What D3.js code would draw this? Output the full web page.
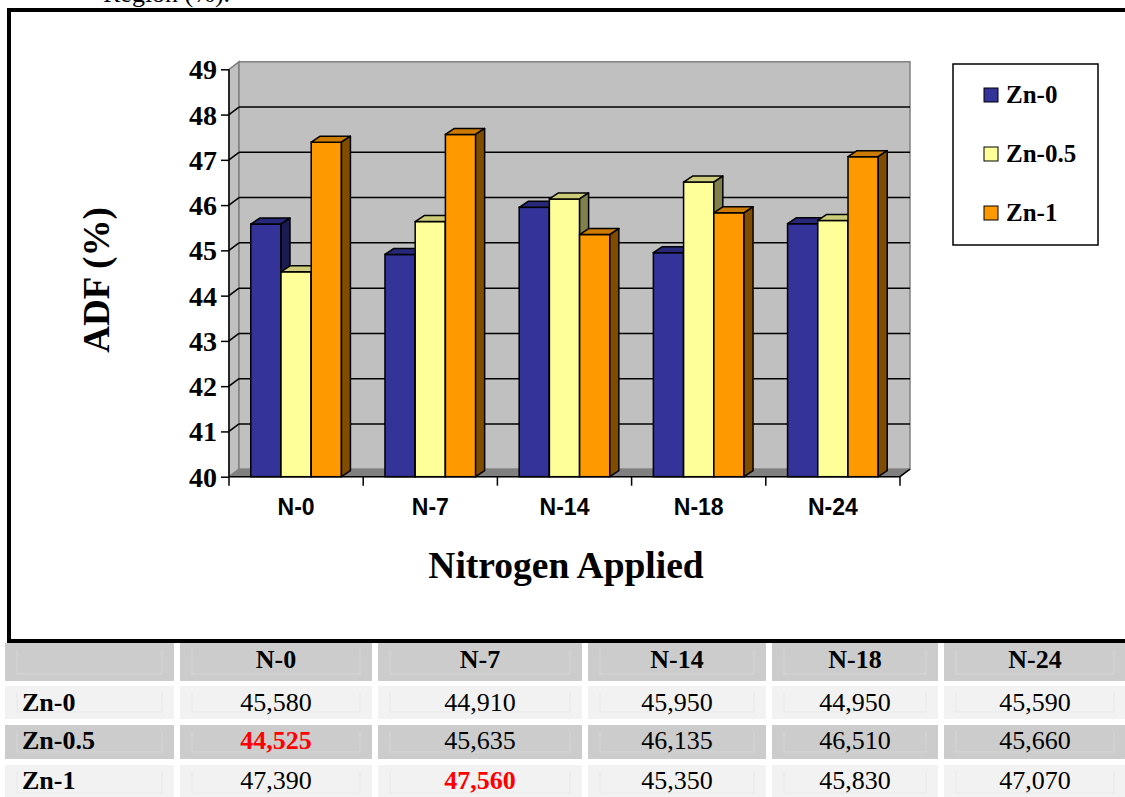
<!DOCTYPE html>
<html>
<head>
<meta charset="utf-8">
<script src="https://cdn.jsdelivr.net/npm/d3@7"></script>
<style>
  html, body { margin: 0; padding: 0; background: #ffffff; }
  svg { display: block; }
</style>
</head>
<body>
<svg id="fig" width="1125" height="797"></svg>
<script>
// ---- data ----
const categories = ["N-0", "N-7", "N-14", "N-18", "N-24"];
const seriesNames = ["Zn-0", "Zn-0.5", "Zn-1"];
const zn0 = [45.580, 44.910, 45.950, 44.950, 45.590];
const zn05 = [44.525, 45.635, 46.135, 46.510, 45.660];
const zn1 = [47.390, 47.560, 45.350, 45.830, 47.070];
const yTickValues = [40, 41, 42, 43, 44, 45, 46, 47, 48, 49];
const highlightedCells = [["Zn-0.5", "N-0"], ["Zn-1", "N-7"]];

const seriesValues = [zn0, zn05, zn1];

// face colours per series: front, top, side
const faceColors = [
  { front: "#333399", top: "#28287a", side: "#1b1b52" },
  { front: "#ffff99", top: "#cccc7a", side: "#80804d" },
  { front: "#ff9900", top: "#cc7a00", side: "#7f4c00" }
];

const serif = "'Liberation Serif', 'Times New Roman', serif";
const sans = "'Liberation Sans', Arial, sans-serif";

const svg = d3.select("#fig");

// ---- caption fragment above the frame ----
svg.append("text")
  .attr("x", 103).attr("y", 2)
  .style("font-family", serif).style("font-size", "26px")
  .text("Region (%).");

// ---- chart frame ----
svg.append("rect")
  .attr("x", 9).attr("y", 10)
  .attr("width", 1130).attr("height", 631)
  .attr("fill", "#ffffff").attr("stroke", "#000").attr("stroke-width", 4);

// ---- scales ----
const y = d3.scaleLinear().domain([40, 49]).range([476.7, 69.3]);
const x0 = d3.scaleBand().domain(categories).range([229, 900]).paddingInner(0).paddingOuter(0);
const x1 = d3.scaleBand().domain(seriesNames).range([0, x0.bandwidth()]).paddingInner(0).paddingOuter(0.72);

// wall depth and bar depth offsets
const wdx = 10, wdy = -7.5;
const bdx = 9, bdy = -6;

const plot = svg.append("g");
const xL = x0.range()[0], xR = x0.range()[1];
const yB = y(40), yT = y(49);

// side wall
plot.append("polygon")
  .attr("points", [[xL, yT], [xL + wdx, yT + wdy], [xL + wdx, yB + wdy], [xL, yB]].join(" "))
  .attr("fill", "#c0c0c0").attr("stroke", "#808080").attr("stroke-width", 1.5);
// back wall
plot.append("rect")
  .attr("x", xL + wdx).attr("y", yT + wdy)
  .attr("width", xR - xL).attr("height", yB - yT)
  .attr("fill", "#c0c0c0").attr("stroke", "#808080").attr("stroke-width", 1.5);
// floor
plot.append("polygon")
  .attr("points", [[xL, yB], [xL + wdx, yB + wdy], [xR + wdx, yB + wdy], [xR, yB]].join(" "))
  .attr("fill", "#808080").attr("stroke", "#808080").attr("stroke-width", 1);

// gridlines on back and side walls
const gridVals = yTickValues.filter(v => v > 40 && v < 49);
plot.selectAll(".grid-back").data(gridVals).join("line")
  .attr("x1", xL + wdx).attr("x2", xR + wdx)
  .attr("y1", d => y(d) + wdy).attr("y2", d => y(d) + wdy)
  .attr("stroke", "#000").attr("stroke-width", 1.5);
plot.selectAll(".grid-side").data(gridVals).join("line")
  .attr("x1", xL).attr("x2", xL + wdx)
  .attr("y1", d => y(d)).attr("y2", d => y(d) + wdy)
  .attr("stroke", "#000").attr("stroke-width", 1.5);

// ---- 3D bars ----
const barData = [];
categories.forEach((c, ci) => {
  seriesNames.forEach((s, si) => {
    barData.push({ cat: c, ser: s, si: si, value: seriesValues[si][ci] });
  });
});

const bars = plot.selectAll(".bar").data(barData).join("g").attr("class", "bar");
bars.each(function(d) {
  const g = d3.select(this);
  const xf = x0(d.cat) + x1(d.ser);
  const w = x1.bandwidth();
  const yt = y(d.value);
  const col = faceColors[d.si];
  g.append("rect")
    .attr("x", xf).attr("y", yt).attr("width", w).attr("height", yB - yt)
    .attr("fill", col.front).attr("stroke", "#000").attr("stroke-width", 1.5);
  g.append("polygon")
    .attr("points", [[xf, yt], [xf + bdx, yt + bdy], [xf + w + bdx, yt + bdy], [xf + w, yt]].join(" "))
    .attr("fill", col.top).attr("stroke", "#000").attr("stroke-width", 1.5).attr("stroke-linejoin", "round");
  g.append("polygon")
    .attr("points", [[xf + w, yt], [xf + w + bdx, yt + bdy], [xf + w + bdx, yB + bdy], [xf + w, yB]].join(" "))
    .attr("fill", col.side).attr("stroke", "#000").attr("stroke-width", 1.5).attr("stroke-linejoin", "round");
});

// ---- axes ----
const yAxis = d3.axisLeft(y).tickValues(yTickValues).tickSize(8).tickPadding(4).tickFormat(d3.format("d"));
const yg = svg.append("g").attr("transform", `translate(${xL},0)`).call(yAxis);
yg.select(".domain").attr("stroke", "#000").attr("stroke-width", 1.5).attr("d", `M0,${yT}V${yB}`);
yg.selectAll(".tick line").attr("stroke", "#000").attr("stroke-width", 1.5);
yg.selectAll(".tick text")
  .style("font-family", serif).style("font-size", "28px").style("font-weight", "bold")
  .attr("fill", "#000").attr("dy", "0.34em");

const xAxis = d3.axisBottom(x0).tickSize(0).tickPadding(22);
const xg = svg.append("g").attr("transform", `translate(0,${yB})`).call(xAxis);
xg.select(".domain").attr("stroke", "#000").attr("stroke-width", 1.5).attr("d", `M${xL},0H${xR}`);
xg.selectAll(".tick text")
  .style("font-family", sans).style("font-size", "23px").style("font-weight", "bold")
  .attr("fill", "#000");
// category boundary ticks
const boundaries = categories.map(c => x0(c)).concat([xR]);
xg.selectAll(".bound").data(boundaries).join("line")
  .attr("x1", d => d).attr("x2", d => d).attr("y1", 0).attr("y2", 9)
  .attr("stroke", "#000").attr("stroke-width", 1.5);
// right floor edge
svg.append("line")
  .attr("x1", xR).attr("y1", yB).attr("x2", xR + wdx).attr("y2", yB + wdy)
  .attr("stroke", "#000").attr("stroke-width", 1.5);

// ---- axis titles ----
svg.append("text")
  .attr("transform", "translate(109,280) rotate(-90)")
  .attr("text-anchor", "middle")
  .style("font-family", serif).style("font-size", "37px").style("font-weight", "bold")
  .text("ADF (%)");
svg.append("text")
  .attr("x", 566).attr("y", 578)
  .attr("text-anchor", "middle")
  .style("font-family", serif).style("font-size", "37.5px").style("font-weight", "bold")
  .text("Nitrogen Applied");

// ---- legend ----
const legend = svg.append("g");
legend.append("rect")
  .attr("x", 953).attr("y", 64).attr("width", 145).attr("height", 181)
  .attr("fill", "#fff").attr("stroke", "#000").attr("stroke-width", 1.5);
const legendY = d3.scalePoint().domain(seriesNames).range([95, 213]);
const li = legend.selectAll(".li").data(seriesNames).join("g")
  .attr("transform", d => `translate(984,${legendY(d)})`);
li.append("rect")
  .attr("x", 0).attr("y", -7).attr("width", 14).attr("height", 14)
  .attr("fill", (d, i) => faceColors[i].front).attr("stroke", "#000").attr("stroke-width", 1);
li.append("text")
  .attr("x", 22).attr("y", 8)
  .style("font-family", serif).style("font-size", "25px").style("font-weight", "bold")
  .text(d => d);

// ---- data table ----
const colEdges = [[5, 174], [180, 372], [378, 582], [588, 766], [772, 938], [944, 1126]];
const rowEdges = [[643, 681], [686, 719], [725, 759], [765, 800]];
const rowFill = ["#cccccc", "#f2f2f2", "#cccccc", "#f2f2f2"];
const fmtVal = v => d3.format(".3f")(v).replace(".", ",");
const isHi = (s, c) => highlightedCells.some(h => h[0] === s && h[1] === c);

const table = svg.append("g");
const cells = [];
rowEdges.forEach((r, ri) => {
  colEdges.forEach((c, ci) => {
    let text = "", bold = false, color = "#000", anchor = "middle";
    if (ri === 0 && ci > 0) { text = categories[ci - 1]; bold = true; }
    else if (ri > 0 && ci === 0) { text = seriesNames[ri - 1]; bold = true; anchor = "start"; }
    else if (ri > 0 && ci > 0) {
      text = fmtVal(seriesValues[ri - 1][ci - 1]);
      if (isHi(seriesNames[ri - 1], categories[ci - 1])) { bold = true; color = "#ff0000"; }
    }
    cells.push({ r, c, ri, ci, text, bold, color, anchor });
  });
});

const cg = table.selectAll(".cell").data(cells).join("g");
cg.append("rect")
  .attr("x", d => d.c[0]).attr("y", d => d.r[0])
  .attr("width", d => d.c[1] - d.c[0]).attr("height", d => d.r[1] - d.r[0])
  .attr("fill", d => rowFill[d.ri]);
// faint inset cell borders
cg.append("path")
  .attr("d", d => `M${d.c[0] + 12},${d.r[0] + 6}V${d.r[1] - 7}H${d.c[1] - 12}V${d.r[0] + 6}`)
  .attr("fill", "none")
  .attr("stroke", d => d.ri % 2 === 0 ? "#d6d6d6" : "#e8e8e8")
  .attr("stroke-width", 1);
cg.append("text")
  .attr("x", d => d.anchor === "start" ? d.c[0] + 17 : (d.c[0] + d.c[1]) / 2)
  .attr("y", d => [668, 711, 749, 789][d.ri])
  .attr("text-anchor", d => d.anchor)
  .style("font-family", serif).style("font-size", "26px")
  .style("font-weight", d => d.bold ? "bold" : "normal")
  .attr("fill", d => d.color)
  .text(d => d.text);
</script>
</body>
</html>
